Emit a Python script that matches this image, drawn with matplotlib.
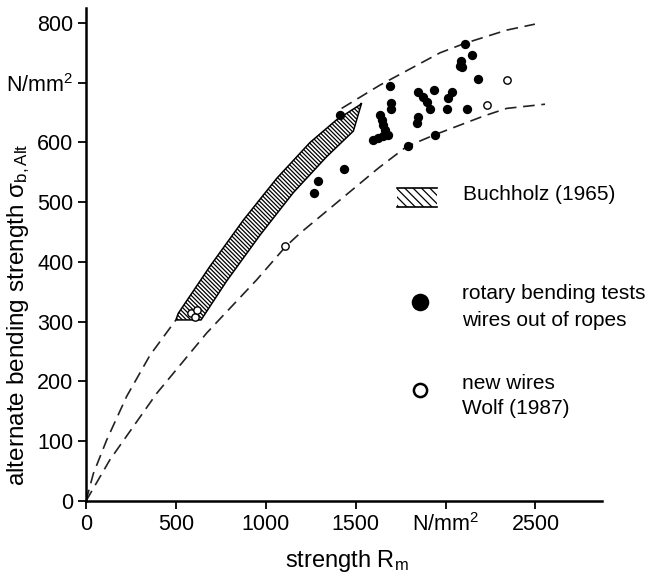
import matplotlib
matplotlib.use("Agg")
import matplotlib.pyplot as plt
from matplotlib.patches import Polygon, Rectangle

plt.rcParams['font.family'] = ['Liberation Sans', 'DejaVu Sans']
plt.rcParams['mathtext.fontset'] = 'custom'
plt.rcParams['mathtext.rm'] = 'Liberation Sans'
plt.rcParams['mathtext.it'] = 'Liberation Sans:italic'
plt.rcParams['hatch.linewidth'] = 0.9

# upper scatter-band limit (hidden under the Buchholz band in the middle)
upper_lo_R = [0, 41, 115, 226, 356, 500]
upper_lo_s = [0, 46, 102, 175, 244, 303]
upper_hi_R = [1422, 1635, 1969, 2108, 2340, 2497]
upper_hi_s = [657, 696, 750, 766, 788, 798]

# lower scatter-band limit
lower_R = [0, 133, 393, 671, 949, 1111, 1190, 1626, 1783, 1941, 2210, 2340, 2553]
lower_s = [0, 69, 180, 281, 370, 426, 448, 557, 593, 613, 644, 657, 664]

# Buchholz (1965) band outline
band_R = [500, 640, 782, 968, 1153, 1338, 1487, 1533, 1524, 1394, 1246, 1061, 875, 690, 513]
band_s = [303, 303, 368, 445, 516, 576, 619, 666, 663, 638, 600, 540, 470, 393, 314]

# rotary bending tests, wires out of ropes
rope_R = [1413, 1437, 1289, 1270, 1598, 1626, 1654, 1681, 1635, 1645, 1654, 1663,
          1696, 1696, 1691, 1848, 1877, 1895, 1913, 1935, 1848, 1843, 2034, 2015,
          2006, 1793, 1941, 2084, 2078, 2093, 2108, 2145, 2182, 2117]
rope_s = [646, 555, 536, 515, 604, 607, 610, 613, 646, 638, 629, 621,
          666, 656, 695, 685, 676, 668, 656, 688, 643, 632, 685, 675,
          656, 594, 613, 736, 728, 727, 764, 746, 706, 656]

# new wires, Wolf (1987)
new_R = [585, 605, 620, 1107, 2232, 2340]
new_s = [315, 308, 320, 426, 662, 705]

yticks = [0, 100, 200, 300, 400, 500, 600, 700, 800]
ytick_labels = ['0', '100', '200', '300', '400', '500', '600', 'N/mm$^{2}$', '800']
xticks = [0, 500, 1000, 1500, 2000, 2500]
xtick_labels = ['0', '500', '1000', '1500', 'N/mm$^{2}$', '2500']

fs = 15
fig = plt.figure(figsize=(6.51, 5.73), dpi=100)
ax = fig.add_axes([86 / 651, 72 / 573, 516 / 651, 493 / 573])

dash = dict(color='#222222', lw=1.2, dashes=(7, 4))
ax.plot(upper_lo_R, upper_lo_s, **dash)
ax.plot(upper_hi_R, upper_hi_s, **dash)
ax.plot(lower_R, lower_s, **dash)

band = Polygon(list(zip(band_R, band_s)), closed=True, facecolor='white',
               edgecolor='black', lw=1.1, hatch='\\\\\\\\\\\\\\\\', zorder=3)
ax.add_patch(band)

ax.scatter(rope_R, rope_s, s=45, color='black', zorder=4, lw=0)
ax.scatter(new_R, new_s, s=28, facecolor='white', edgecolor='black', lw=1.0, zorder=5)

# legend drawn by hand
ax.add_patch(Rectangle((0.603, 0.596), 0.077, 0.039, transform=ax.transAxes,
                       facecolor='white', edgecolor='black', lw=0, hatch='\\\\\\\\'))
ax.plot([0.603, 0.680], [0.635, 0.635], transform=ax.transAxes, color='black', lw=1.2)
ax.plot([0.603, 0.680], [0.596, 0.596], transform=ax.transAxes, color='black', lw=1.2)
ax.text(0.730, 0.621, 'Buchholz (1965)', transform=ax.transAxes, fontsize=fs, va='center')
ax.scatter([0.647], [0.404], s=160, color='black', transform=ax.transAxes, lw=0)
ax.text(0.729, 0.421, 'rotary bending tests', transform=ax.transAxes, fontsize=fs, va='center')
ax.text(0.729, 0.367, 'wires out of ropes', transform=ax.transAxes, fontsize=fs, va='center')
ax.scatter([0.647], [0.225], s=90, facecolor='white', edgecolor='black', lw=1.8,
           transform=ax.transAxes)
ax.text(0.729, 0.239, 'new wires', transform=ax.transAxes, fontsize=fs, va='center')
ax.text(0.729, 0.188, 'Wolf (1987)', transform=ax.transAxes, fontsize=fs, va='center')

ax.set_xlim(0, 2870)
ax.set_ylim(0, 825)
ax.set_xticks(xticks)
ax.set_xticklabels(xtick_labels)
ax.set_yticks(yticks)
ax.set_yticklabels(ytick_labels)
ax.tick_params(labelsize=15.5, width=1.3, length=6, pad=3)
for side in ('top', 'right'):
    ax.spines[side].set_visible(False)
for side in ('left', 'bottom'):
    ax.spines[side].set_linewidth(1.8)

ax.set_xlabel('strength R$_{\\mathregular{m}}$', fontsize=17, va='center')
ax.xaxis.set_label_coords(0.505, -0.122)
ax.set_ylabel('alternate bending strength σ$_{\\mathregular{b,Alt}}$', fontsize=17.5,
              va='center')
ax.yaxis.set_label_coords(-0.13, 0.377)

fig.savefig('out.png', dpi=100)
